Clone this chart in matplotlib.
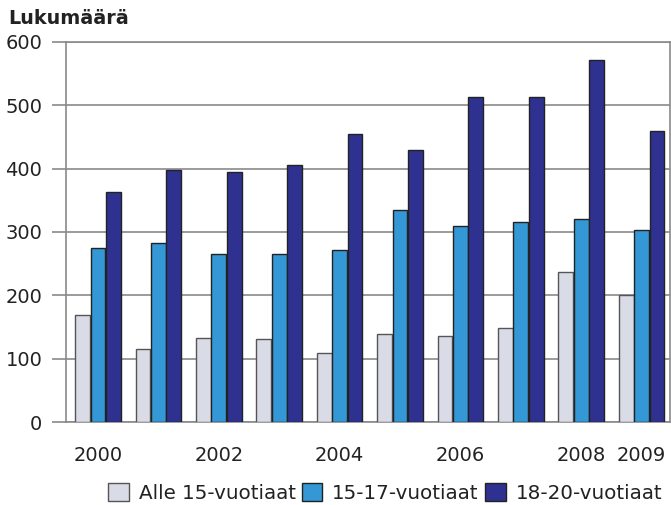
import numpy as np
import matplotlib.pyplot as plt

# Lukumäärä ikäryhmittäin 2000-2009
vuodet = [2000, 2001, 2002, 2003, 2004, 2005, 2006, 2007, 2008, 2009]
alle15 = [169, 115, 133, 131, 109, 139, 136, 149, 237, 200]
v15_17 = [275, 282, 266, 266, 271, 334, 310, 316, 321, 303]
v18_20 = [363, 398, 395, 406, 454, 430, 513, 513, 571, 459]
sarjat = ['Alle 15-vuotiaat', '15-17-vuotiaat', '18-20-vuotiaat']
varit = ['#D9DBE7', '#3398D5', '#2E3190']
reunat = ['#555555', '#222222', '#222222']
nayta_vuodet = [2000, 2002, 2004, 2006, 2008, 2009]

plt.rcParams['font.family'] = ['DejaVu Sans']

fig = plt.figure(figsize=(6.71, 5.05), dpi=100)
ax = fig.add_axes([66 / 671, 1 - 422 / 505, 604 / 671, 380 / 505])

x = np.arange(len(vuodet)) + 0.03
w = 0.255
for i, (arvot, nimi) in enumerate(zip([alle15, v15_17, v18_20], sarjat)):
    ax.bar(x + (i - 1) * w, arvot, width=w * 0.97, color=varit[i],
           edgecolor=reunat[i], linewidth=1.0, label=nimi, zorder=3)

ax.set_xlim(-0.5, len(vuodet) - 0.5)
ax.set_ylim(0, 600)
ax.set_yticks(range(0, 601, 100))
ax.yaxis.grid(True, color='#8a8a8a', linewidth=1.2, zorder=0)
ax.set_axisbelow(True)

pos = [vuodet.index(v) + 0.03 for v in nayta_vuodet]
ax.set_xticks(pos)
ax.set_xticklabels([str(v) for v in nayta_vuodet])
ax.tick_params(axis='x', length=0, pad=17, labelsize=14, colors='#222222')
ax.tick_params(axis='y', length=10, width=1.2, color='#8a8a8a', pad=7,
               labelsize=14, labelcolor='#222222')

for s in ['left', 'top', 'right', 'bottom']:
    ax.spines[s].set_color('#8a8a8a')
    ax.spines[s].set_linewidth(1.2)

fig.text(8 / 671, 1 - 18 / 505, 'Lukumäärä', fontsize=13.8, fontweight='bold',
         color='#222222', va='center', ha='left')

fig.legend(loc='center', bbox_to_anchor=(385 / 671, 1 - 493 / 505), ncol=3,
           frameon=False, fontsize=14.3, handlelength=1.05, handleheight=1.05,
           handletextpad=0.5, columnspacing=0.3, labelcolor='#222222')

fig.savefig('out.png', dpi=100)
